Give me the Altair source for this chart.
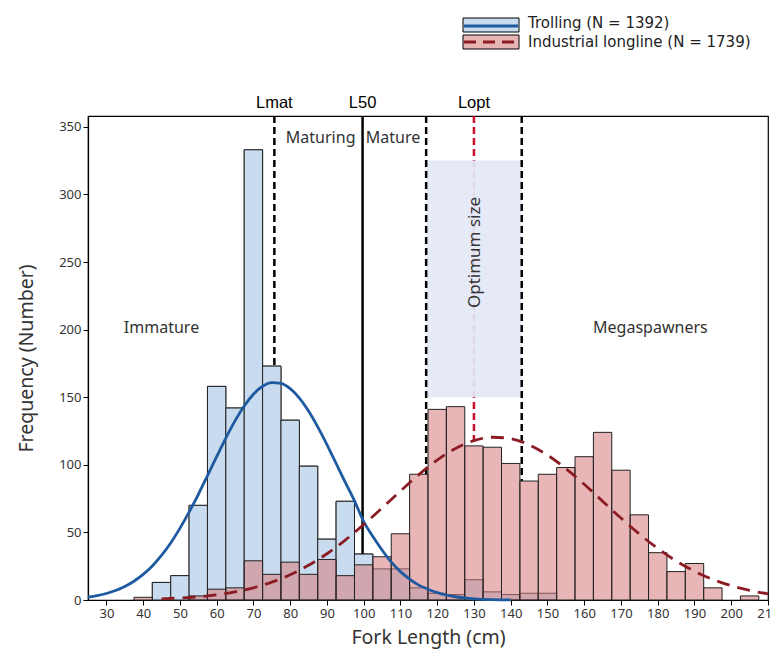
import altair as alt
import pandas as pd

# ---------------- data ----------------
bin_centers = [40, 45, 50, 55, 60, 65, 70, 75, 80, 85, 90, 95, 100, 105, 110, 115, 120,
               125, 130, 135, 140, 145, 150, 155, 160, 165, 170, 175, 180, 185, 190, 195,
               200, 205]
trolling_counts = [0, 13, 18, 70, 158, 142, 333, 173, 133, 99, 45, 73, 34, 23, 23, 9, 5,
                   4, 15, 6, 4, 5, 5, 0, 0, 0, 0, 0, 0, 0, 0, 0, 0, 0]
longline_counts = [2, 0, 0, 3, 8, 9, 29, 19, 28, 19, 30, 18, 26, 32, 49, 93, 141,
                   143, 114, 113, 101, 88, 93, 98, 106, 124, 96, 63, 35, 21, 27, 9, 0, 3]
BIN_WIDTH = 5

trolling_fit_x = [25, 27.5, 30, 32.5, 35, 37.5, 40, 42.5, 45, 47.5, 50, 52.5, 55, 57.5, 60,
                  62.5, 65, 67.5, 70, 72.5, 75, 77.5, 80, 82.5, 85, 87.5, 90, 92.5, 95, 97.5,
                  100, 102.5, 105, 107.5, 110, 112.5, 115, 117.5, 120, 122.5, 125, 127.5,
                  130, 135, 140]
trolling_fit_y = [2.2, 3.3, 4.8, 7.0, 10, 13.9, 18.9, 25.2, 33, 42.2, 53, 65, 78, 92, 106,
                  119.8, 132.5, 143.5, 152.2, 158.1, 160.8, 160.2, 156.3, 149.4, 139.8,
                  128.1, 115, 101, 87, 73.3, 58, 47, 37, 28, 21, 15.5, 11, 8, 5.5, 3.7,
                  2.4, 1.5, 0.9, 0.3, 0.1]

longline_fit_x = [45, 50, 55, 60, 65, 70, 75, 80, 85, 90, 95, 100, 105, 110, 115, 120, 125,
                  130, 135, 140, 145, 150, 155, 160, 165, 170, 175, 180, 185, 190, 195, 200,
                  205, 210]
longline_fit_y = [0.9, 1.5, 2.4, 3.9, 6.0, 9.0, 13.2, 18.7, 25.7, 34.2, 44.3, 55.8, 68.1,
                  80.6, 92.7, 103.5, 112.1, 117.9, 120.4, 119.4, 114.8, 107.2, 97.2, 85.6,
                  73.1, 60.6, 48.8, 38.1, 28.9, 21.3, 15.2, 10.6, 7.1, 4.6]

marker_labels = ["Lmat", "L50", "Lopt"]
marker_values = [75.7, 99.7, 130]
optimum_range = [117, 143]
optimum_box_y = [150, 325]

zone_labels = ["Immature", "Maturing", "Mature", "Megaspawners"]
zone_x = [45, 88.3, 108, 178]
zone_y = [201, 342, 342, 201]
optimum_label = "Optimum size"
optimum_label_pos = [130.2, 257]

legend_labels = ["Trolling (N = 1392)", "Industrial longline (N = 1739)"]
x_ticks = [30, 40, 50, 60, 70, 80, 90, 100, 110, 120, 130, 140, 150, 160, 170, 180, 190, 200, 210]
y_ticks = [0, 50, 100, 150, 200, 250, 300, 350]

# ---------------- styles ----------------
BLUE_FILL = "#c9dbef"
RED_FILL = "#d67a7a"
BLUE_LINE = "#1e5aa0"
RED_LINE = "#8b1c24"
LOPT_RED = "#c8102e"
FONT = "Noto Sans"

X_SCALE = alt.Scale(domain=[25, 210], nice=False, zero=False)
Y_SCALE = alt.Scale(domain=[0, 358], nice=False, zero=True)
X_AXIS = alt.Axis(title="Fork Length (cm)", values=x_ticks, labelFlush=False,
                  labelOverlap=False, tickSize=5, labelPadding=2, titlePadding=8, grid=False)
Y_AXIS = alt.Axis(title="Frequency (Number)", values=y_ticks, tickSize=5, labelPadding=2,
                  titlePadding=22, grid=False)


def X(field):
    return alt.X(field, scale=X_SCALE, axis=X_AXIS, title="Fork Length (cm)")


def Y(field):
    return alt.Y(field, scale=Y_SCALE, axis=Y_AXIS, title="Frequency (Number)")


bars = pd.DataFrame({"center": bin_centers, "trolling": trolling_counts,
                     "longline": longline_counts})
bars["x0"] = bars["center"] - BIN_WIDTH / 2
bars["x1"] = bars["center"] + BIN_WIDTH / 2
bars["base"] = 0
blue_bars = bars[bars["trolling"] > 0]
red_bars = bars[bars["longline"] > 0]

fit_blue = pd.DataFrame({"x": trolling_fit_x, "y": trolling_fit_y})
fit_red = pd.DataFrame({"x": longline_fit_x, "y": longline_fit_y})

markers = pd.DataFrame({"label": marker_labels, "x": marker_values})
dashed_x = pd.DataFrame({"x": [marker_values[0]] + optimum_range})
box = pd.DataFrame({"x0": [optimum_range[0]], "x1": [optimum_range[1]],
                    "y0": [optimum_box_y[0]], "y1": [optimum_box_y[1]]})
zones = pd.DataFrame({"label": zone_labels, "x": zone_x, "y": zone_y})
opt_text = pd.DataFrame({"label": [optimum_label], "x": [optimum_label_pos[0]],
                         "y": [optimum_label_pos[1]]})

# ---------------- layers ----------------
blue_hist = alt.Chart(blue_bars).mark_rect(
    fill=BLUE_FILL, stroke="#222222", strokeWidth=1
).encode(x=X("x0:Q"), x2="x1", y=Y("trolling:Q"), y2="base")

lopt_line = alt.Chart(markers[markers["label"] == "Lopt"]).mark_rule(
    color=LOPT_RED, strokeWidth=2.5, strokeDash=[7, 4]
).encode(x=X("x:Q"))

opt_box = alt.Chart(box).mark_rect(fill="#e4e8f6", opacity=0.92).encode(
    x=X("x0:Q"), x2="x1", y=Y("y0:Q"), y2="y1")

dashed_black = alt.Chart(dashed_x).mark_rule(
    color="black", strokeWidth=2.5, strokeDash=[7, 4]
).encode(x=X("x:Q"))

solid_black = alt.Chart(markers[markers["label"] == "L50"]).mark_rule(
    color="black", strokeWidth=2.5
).encode(x=X("x:Q"))

red_under = alt.Chart(red_bars).mark_rect(fill="white", strokeWidth=0).encode(
    x=X("x0:Q"), x2="x1", y=Y("longline:Q"), y2="base")

red_hist = alt.Chart(red_bars).mark_rect(
    fill=RED_FILL, fillOpacity=0.55, stroke="#222222", strokeWidth=1
).encode(x=X("x0:Q"), x2="x1", y=Y("longline:Q"), y2="base")

blue_curve = alt.Chart(fit_blue).mark_line(
    color=BLUE_LINE, strokeWidth=2.8, interpolate="monotone"
).encode(x=X("x:Q"), y=Y("y:Q"))

red_curve = alt.Chart(fit_red).mark_line(
    color=RED_LINE, strokeWidth=2.8, strokeDash=[13, 8], interpolate="monotone"
).encode(x=X("x:Q"), y=Y("y:Q"))

zone_text = alt.Chart(zones).mark_text(
    font=FONT, fontSize=16, color="#333333", align="center", baseline="middle"
).encode(x=X("x:Q"), y=Y("y:Q"), text="label:N")

opt_label = alt.Chart(opt_text).mark_text(
    font=FONT, fontSize=17, color="#333333", angle=270, align="center", baseline="middle"
).encode(x=X("x:Q"), y=Y("y:Q"), text="label:N")

top_labels = alt.Chart(markers).mark_text(
    font="Liberation Sans Narrow, Liberation Sans, Arial", fontSize=16.5, color="black",
    align="center", baseline="middle"
).encode(x=X("x:Q"), y=alt.value(-13), text="label:N")

# ---------------- legend (drawn) ----------------
LEG_FONT = "DejaVu Sans"
one = pd.DataFrame({"label": [legend_labels[0]]})
two = pd.DataFrame({"label": [legend_labels[1]]})
leg1_box = alt.Chart(one).mark_rect(fill=BLUE_FILL, stroke="black", strokeWidth=1).encode(
    x=alt.value(375), x2=alt.value(431), y=alt.value(-98), y2=alt.value(-84))
leg1_line = alt.Chart(one).mark_rule(color=BLUE_LINE, strokeWidth=3).encode(
    x=alt.value(376), x2=alt.value(430), y=alt.value(-90))
leg1_text = alt.Chart(one).mark_text(
    font=LEG_FONT, fontSize=15, color="#222222", align="left", baseline="middle"
).encode(x=alt.value(440), y=alt.value(-93), text="label:N")
leg2_box = alt.Chart(two).mark_rect(fill="#e8b5b5", stroke="black", strokeWidth=1).encode(
    x=alt.value(375), x2=alt.value(431), y=alt.value(-81), y2=alt.value(-67))
leg2_line = alt.Chart(two).mark_rule(color=RED_LINE, strokeWidth=3, strokeDash=[12, 7]).encode(
    x=alt.value(376), x2=alt.value(430), y=alt.value(-74))
leg2_text = alt.Chart(two).mark_text(
    font=LEG_FONT, fontSize=15, color="#222222", align="left", baseline="middle"
).encode(x=alt.value(440), y=alt.value(-74), text="label:N")

chart = alt.layer(
    blue_hist, lopt_line, opt_box, dashed_black, solid_black, red_under,
    blue_hist, red_hist,
    blue_curve, red_curve, zone_text, opt_label, top_labels,
    leg1_box, leg1_line, leg1_text, leg2_box, leg2_line, leg2_text
).properties(
    width=680, height=484,
    padding={"left": 80, "top": 108, "right": 3, "bottom": 50},
    autosize=alt.AutoSizeParams(type="none"),
    background="white"
).configure_view(
    stroke="black", strokeWidth=1.2
).configure_axis(
    domainColor="black", tickColor="black", labelColor="#333333", titleColor="#333333",
    labelFont=FONT, titleFont=FONT, labelFontSize=13, titleFontSize=19.5,
    titleFontWeight="normal", domainWidth=1.2
)

chart.save("out.html", embed_options={"renderer": "svg", "actions": False})
